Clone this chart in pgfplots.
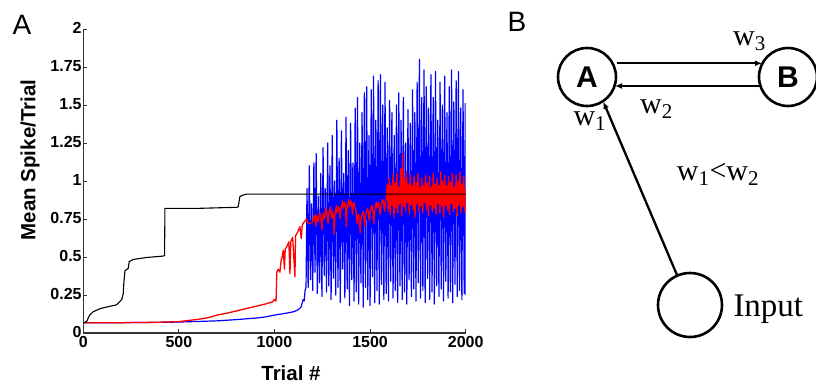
\documentclass[border=0pt]{standalone}
\usepackage{fontspec}
\setmainfont{Liberation Sans}
\newfontfamily\timesf{Liberation Serif}
\usepackage{pgfplots}
\pgfplotsset{compat=1.18}
\usetikzlibrary{arrows.meta}
\begin{document}
\begin{tikzpicture}[x=1pt,y=1pt]
\useasboundingbox (0,0) rectangle (816,384);
\begin{axis}[
  at={(83.3pt,51pt)}, anchor=south west,
  scale only axis, width=382.4pt, height=304pt,
  xmin=0, xmax=2000, ymin=0, ymax=2,
  axis lines*=left,
  axis line style={line width=1.2pt, black!80},
  tick align=inside, major tick length=4pt,
  every tick/.style={black!80, line width=1pt},
  xtick={0,500,1000,1500,2000},
  xticklabels={0,500,1000,1500,2000},
  ytick={0,0.25,0.5,0.75,1,1.25,1.5,1.75,2},
  yticklabels={0,0.25,0.5,0.75,1,1.25,1.5,1.75,2},
  ticklabel style={font=\bfseries\fontsize{16}{16}\selectfont, inner sep=1.5pt},
  xticklabel style={yshift=-1.5pt},
  yticklabel style={yshift=1pt},
  /pgf/number format/assume math mode=true,
]
% blue
\addplot[blue, line width=1.2pt, line join=round] coordinates {
(0,0.068)(100,0.068)(200,0.068)(300,0.069)(400,0.070)(500,0.072)(600,0.076)(700,0.080)
(800,0.088)(900,0.098)(950,0.105)(1000,0.118)(1050,0.128)(1080,0.135)(1100,0.140)(1120,0.150)
(1135,0.165)(1140,0.175)(1145,0.20)(1150,0.22)(1155,0.21)(1160,0.28)(1165,0.30)
(1170,0.95)(1176,0.30)(1182,1.10)(1188,0.35)(1194,0.85)(1200,0.28)(1206,1.12)(1212,0.40)
(1218,1.18)(1224,0.26)(1230,0.90)(1236,0.33)(1242,1.05)(1248,0.24)(1254,1.22)(1260,0.38)
(1266,0.95)(1272,0.27)(1278,1.25)(1284,0.31)(1290,1.10)(1296,0.22)(1302,1.30)(1308,0.36)
(1314,1.00)(1320,0.25)(1326,1.40)(1332,0.30)(1338,1.15)(1344,0.20)(1350,1.33)(1356,0.42)
(1362,1.05)(1368,0.23)(1374,1.42)(1380,0.29)(1386,1.20)(1392,0.18)(1398,1.38)(1404,0.35)
(1410,1.12)(1416,0.21)(1422,1.48)(1428,0.27)(1434,1.55)(1440,0.19)(1446,1.25)(1452,0.33)
(1458,1.45)(1464,0.17)(1470,1.58)(1476,0.30)(1482,1.62)(1488,0.22)(1494,1.30)(1500,0.18)
(1506,1.60)(1512,0.37)(1518,1.69)(1524,0.20)(1530,1.40)(1536,0.28)(1542,1.66)(1548,0.19)
(1554,1.70)(1560,0.32)(1566,1.50)(1572,0.22)(1578,1.65)(1584,0.26)(1590,1.35)(1596,0.21)
(1602,1.53)(1608,0.34)(1614,1.45)(1620,0.23)(1626,1.30)(1632,0.28)(1638,1.50)(1644,0.20)
(1650,1.58)(1656,0.31)(1662,1.40)(1668,0.22)(1674,1.55)(1680,0.27)(1686,1.25)(1692,0.19)
(1698,1.47)(1704,0.35)(1710,1.38)(1716,0.24)(1722,1.60)(1728,0.29)(1734,1.45)(1740,0.21)
(1746,1.65)(1752,0.33)(1758,1.80)(1764,0.23)(1770,1.55)(1776,0.28)(1782,1.73)(1788,0.20)
(1794,1.62)(1800,0.36)(1806,1.48)(1812,0.22)(1818,1.70)(1824,0.27)(1830,1.55)(1836,0.19)
(1842,1.72)(1848,0.31)(1854,1.40)(1860,0.24)(1866,1.65)(1872,0.29)(1878,1.50)(1884,0.21)
(1890,1.69)(1896,0.34)(1902,1.45)(1908,0.23)(1914,1.62)(1920,0.27)(1926,1.73)(1932,0.20)
(1938,1.52)(1944,0.32)(1950,1.66)(1956,0.24)(1962,1.72)(1968,0.28)(1974,1.48)(1980,0.22)
(1986,1.60)(1992,0.26)(1998,1.51)(2000,0.25)
};
% red
\addplot[red, line width=1.3pt, line join=round] coordinates {
(0,0.068)(100,0.068)(200,0.068)(300,0.069)(400,0.071)(500,0.075)(600,0.090)(650,0.100)
(700,0.118)(750,0.130)(800,0.145)(850,0.160)(900,0.175)(950,0.190)(990,0.205)(1000,0.22)
(1008,0.21)(1012,0.40)(1020,0.42)(1028,0.40)(1035,0.48)(1040,0.50)(1046,0.545)(1052,0.42)
(1056,0.55)(1065,0.57)(1075,0.60)(1081,0.39)(1085,0.60)(1095,0.63)(1107,0.37)(1110,0.64)
(1120,0.66)(1133,0.70)(1140,0.62)(1145,0.71)(1155,0.73)(1168,0.75)(1175,0.72)(1185,0.72)
(1200,0.73)(1204,0.77)(1208,0.74)(1212,0.78)(1216,0.70)(1220,0.76)(1224,0.77)(1228,0.73)
(1232,0.75)(1236,0.79)(1240,0.78)(1244,0.74)(1248,0.68)(1252,0.76)(1256,0.79)(1260,0.75)
(1264,0.77)(1268,0.82)(1272,0.81)(1276,0.77)(1280,0.72)(1284,0.79)(1288,0.80)(1292,0.83)
(1296,0.78)(1300,0.76)(1304,0.80)(1308,0.77)(1312,0.65)(1316,0.78)(1320,0.81)(1324,0.84)
(1328,0.79)(1332,0.82)(1336,0.83)(1340,0.80)(1344,0.75)(1348,0.82)(1352,0.84)(1356,0.87)
(1360,0.82)(1364,0.85)(1368,0.86)(1372,0.82)(1376,0.70)(1380,0.83)(1384,0.85)(1388,0.88)
(1392,0.83)(1396,0.86)(1400,0.87)(1404,0.84)(1408,0.78)(1412,0.85)(1416,0.86)(1420,0.83)
(1424,0.82)(1428,0.78)(1432,0.72)(1436,0.77)(1440,0.78)(1444,0.74)(1448,0.66)(1452,0.75)
(1456,0.77)(1460,0.79)(1464,0.80)(1468,0.76)(1472,0.70)(1476,0.77)(1480,0.79)(1484,0.81)
(1488,0.82)(1492,0.78)(1496,0.74)(1500,0.80)(1504,0.81)(1508,0.84)(1512,0.83)(1516,0.79)
(1520,0.72)(1524,0.81)(1528,0.84)(1532,0.86)(1536,0.82)(1540,0.85)(1544,0.86)(1548,0.82)
(1552,0.78)(1556,0.83)(1560,0.85)(1564,0.88)(1568,0.87)(1572,0.84)(1576,0.80)(1580,0.86)
(1584,0.88)
(1590,0.98)(1595,0.80)(1600,1.02)(1605,0.78)(1610,0.97)(1615,0.84)(1620,1.04)(1625,0.76)
(1630,0.99)(1635,0.82)(1640,1.05)(1645,0.79)(1650,0.96)(1655,0.85)(1660,1.08)(1665,0.77)
(1670,1.18)(1675,0.83)(1680,1.02)(1685,0.80)(1690,1.06)(1695,0.86)(1700,0.98)(1705,0.78)
(1710,1.04)(1715,0.84)(1720,0.97)(1725,0.81)(1730,1.03)(1735,0.76)(1740,0.99)(1745,0.85)
(1750,1.05)(1755,0.80)(1760,0.96)(1765,0.83)(1770,1.02)(1775,0.79)(1780,0.97)(1785,0.86)
(1790,1.04)(1795,0.81)(1800,0.99)(1805,0.77)(1810,1.03)(1815,0.84)(1820,0.96)(1825,0.80)
(1830,1.05)(1835,0.82)(1840,0.98)(1845,0.78)(1850,1.02)(1855,0.85)(1860,0.97)(1865,0.79)
(1870,1.06)(1875,0.83)(1880,1.00)(1885,0.76)(1890,1.04)(1895,0.84)(1900,0.97)(1905,0.81)
(1910,1.03)(1915,0.78)(1920,0.99)(1925,0.85)(1930,1.05)(1935,0.80)(1940,0.96)(1945,0.82)
(1950,1.04)(1955,0.77)(1960,1.00)(1965,0.84)(1970,1.06)(1975,0.79)(1980,0.98)(1985,0.83)
(1990,1.03)(1995,0.80)(2000,0.95)
};
% black
\addplot[black, line width=1.1pt] coordinates {
(0,0.065)(20,0.08)(26,0.10)(35,0.12)(52,0.14)(87,0.16)(136,0.175)(174,0.185)(185,0.20)
(201,0.22)(209,0.26)(212,0.33)(218,0.41)(235,0.425)(240,0.47)(262,0.484)(331,0.497)
(418,0.506)(425,0.51)(427,0.82)(600,0.82)(802,0.827)(810,0.83)(819,0.897)(830,0.905)
(854,0.914)(2000,0.914)
};
\end{axis}
% axis titles
\node[rotate=90, font=\bfseries\fontsize{20.5}{20.5}\selectfont] at (30,224) {Mean Spike/Trial};
\node[inner sep=0pt, font=\bfseries\fontsize{20.5}{20.5}\selectfont] at (291,11) {Trial \#};
% panel letters
\node[font=\fontsize{28}{28}\selectfont] at (22,359) {A};
\node[font=\fontsize{28}{28}\selectfont] at (517,362) {B};
% diagram
\draw[line width=2.6pt] (587,307) circle (29);
\draw[line width=2.6pt] (788,307) circle (29);
\draw[line width=2.6pt] (690,79) circle (32);
\node[font=\bfseries\fontsize{30}{30}\selectfont] at (587,307) {A};
\node[font=\bfseries\fontsize{30}{30}\selectfont] at (788,307) {B};
\draw[line width=2.3pt, -{Latex[length=7pt,width=6pt]}] (617,320.7) -- (762,320.7);
\draw[line width=2.3pt, -{Latex[length=7pt,width=6pt]}] (760,298) -- (615,298);
\draw[line width=2.3pt, -{Latex[length=7pt,width=6pt]}] (677,109) -- (603.3,282.3);
\begin{scope}[every node/.style={font=\timesf\fontsize{30}{30}\selectfont, inner sep=0}]
\node[anchor=base west] at (733,339) {w\textsubscript{3}};
\node[anchor=base west] at (640,270.7) {w\textsubscript{2}};
\node[anchor=base west] at (573.3,259) {w\textsubscript{1}};
\node[anchor=base west] at (676.7,204) {w\textsubscript{1}<w\textsubscript{2}};
\end{scope}
\node[anchor=base west, inner sep=0, font=\timesf\fontsize{33}{33}\selectfont] at (733.3,67.3) {Input};
\end{tikzpicture}
\end{document}
